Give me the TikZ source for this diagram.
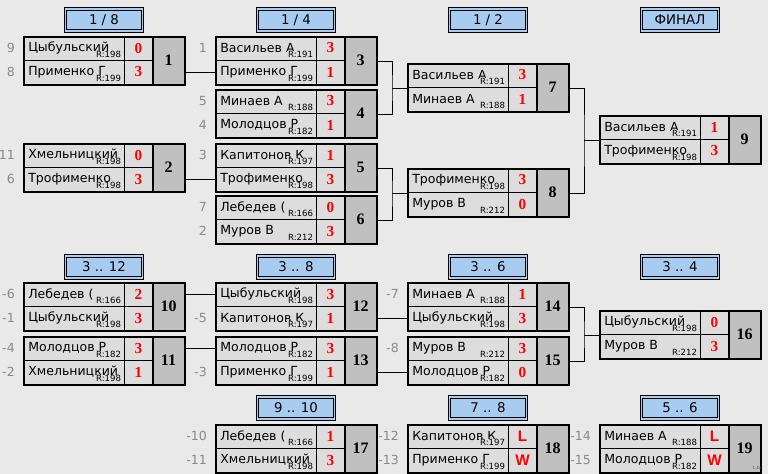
\documentclass[tikz,border=0pt]{standalone}
\usepackage{fontspec}
\setmainfont{DejaVu Sans}
\newfontfamily\scorefont{Liberation Serif}
\newfontfamily\lwfont{Liberation Sans}
\usetikzlibrary{positioning}

\definecolor{bgcol}{HTML}{E9E9E9}
\definecolor{cellcol}{HTML}{DDDDDD}
\definecolor{numcol}{HTML}{C0C0C0}
\definecolor{headcol}{HTML}{A8CCF0}
\definecolor{seedcol}{HTML}{8A8A8A}

\begin{document}
\begin{tikzpicture}[x=0.75pt, y=-0.75pt,
    every node/.style={font=\fontsize{9.4}{11}\selectfont},
    header/.style={draw=black, line width=0.6pt, fill=headcol, double=headcol, double distance=1.2pt,
      minimum width=57.5pt, minimum height=16.5pt, inner sep=0pt, font=\fontsize{10}{11}\selectfont},
    box/.style={draw=black, line width=1.8pt, minimum width=120.75pt, minimum height=36pt, inner sep=0pt, anchor=north west},
    row/.style={inner sep=0pt, minimum width=120.75pt, minimum height=18pt, anchor=north west},
    player/.style={anchor=west, inner sep=0pt},
    rating/.style={anchor=south east, inner sep=0.6pt, fill=cellcol, font=\fontsize{6.4}{7}\selectfont},
    score/.style={text=red, font=\scorefont\bfseries\fontsize{11.5}{12}\selectfont},
    gameno/.style={font=\scorefont\bfseries\fontsize{12}{12}\selectfont},
    seed/.style={text=seedcol, inner sep=0pt},
    link/.style={draw=black, line width=0.7pt}]

  % Background
  \fill[bgcol] (0,0) rectangle (768,474);
  \useasboundingbox (0,0) rectangle (768,474);

  % Headers
  \foreach \t/\x/\y [count=\i] in {{1 / 8}/104/20, {1 / 4}/296/20, {1 / 2}/488/20, ФИНАЛ/680/20,
      {3 .. 12}/104/267, {3 .. 8}/296/267, {3 .. 6}/488/267, {3 .. 4}/680/267,
      {9 .. 10}/296/408, {7 .. 8}/488/408, {5 .. 6}/680/408}
    \node[header] (h\i) at (\x,\y) {\t};

  % Matches
  \foreach \m/\x/\y/\pa/\ra/\sa/\pb/\rb/\sb in {
      1/23/36/Цыбульский/198/0/Применко Г/199/3,
      2/23/143/Хмельницкий/198/0/Трофименко/198/3,
      3/215/36/Васильев А/191/3/Применко Г/199/1,
      4/215/89/Минаев А/188/3/Молодцов Р/182/1,
      5/215/143/Капитонов К/197/1/Трофименко/198/3,
      6/215/195/Лебедев (/166/0/Муров В/212/3,
      7/407/63/Васильев А/191/3/Минаев А/188/1,
      8/407/168/Трофименко/198/3/Муров В/212/0,
      9/599/115/Васильев А/191/1/Трофименко/198/3,
      10/23/282/Лебедев (/166/2/Цыбульский/198/3,
      11/23/336/Молодцов Р/182/3/Хмельницкий/198/1,
      12/215/282/Цыбульский/198/3/Капитонов К/197/1,
      13/215/336/Молодцов Р/182/3/Применко Г/199/1,
      14/407/282/Минаев А/188/1/Цыбульский/198/3,
      15/407/336/Муров В/212/3/Молодцов Р/182/0,
      16/599/310/Цыбульский/198/0/Муров В/212/3,
      17/215/424/Лебедев (/166/1/Хмельницкий/198/3,
      18/407/424/Капитонов К/197/{\lwfont L}/Применко Г/199/{\lwfont W},
      19/599/424/Минаев А/188/{\lwfont L}/Молодцов Р/182/{\lwfont W}}{
    \fill[cellcol] (\x,\y) rectangle ++(130,48);
    \fill[numcol] (\x+130,\y) rectangle ++(31,48);
    \draw[line width=0.6pt] (\x,\y+24) -- ++(130,0) (\x+101,\y) -- ++(0,48);
    \node[row] (m\m a) at (\x,\y) {};
    \node[row] (m\m b) at (\x,\y+24) {};
    \begin{scope}
      \clip (\x,\y) rectangle ++(101,48);
      \node[player] (p\m a) at (\x+5,\y+12) {\pa};
      \node[player] (p\m b) at (\x+5,\y+36) {\pb};
      \node[rating] (r\m a) at (\x+99,\y+23) {R:\ra};
      \node[rating] (r\m b) at (\x+99,\y+47) {R:\rb};
    \end{scope}
    \node[score] (s\m a) at (\x+115.5,\y+12) {\sa};
    \node[score] (s\m b) at (\x+115.5,\y+36) {\sb};
    \node[gameno] (g\m) at (\x+145.5,\y+24) {\m};
    \draw[line width=1.8pt] (\x+130,\y) -- ++(0,48);
    \node[box] (m\m) at (\x,\y) {};
  }

  % Seeds
  \foreach \r/\s in {m1a/9, m1b/8, m2a/11, m2b/6, m3a/1, m4a/5, m4b/4, m5a/3, m6a/7, m6b/2,
      m10a/-6, m10b/-1, m11a/-4, m11b/-2, m12b/-5, m13b/-3, m14a/-7, m15a/-8,
      m17a/-10, m17b/-11, m18a/-12, m18b/-13, m19a/-14, m19b/-15}
    \node[seed, left=6pt of \r.west] (sd\r) {\s};

  % Joints
  \coordinate (j7) at ([xshift=-11.25pt]m7.west);
  \coordinate (j8) at ([xshift=-11.25pt]m8.west);
  \coordinate (j9) at ([xshift=-11.25pt]m9.west);
  \coordinate (j16) at ([xshift=-11.25pt]m16.west);

  % Edges
  \draw[link] (m1b.east) -- (m3b.west);
  \draw[link] (m2b.east) -- (m5b.west);
  \draw[link] (m3.east) -| (j7) |- (m4.east);
  \draw[link] (j7) -- (m7.west);
  \draw[link] (m5.east) -| (j8) |- (m6.east);
  \draw[link] (j8) -- (m8.west);
  \draw[link] (m7.east) -| (j9) |- (m8.east);
  \draw[link] (j9) -- (m9.west);
  \draw[link] (m10a.east) -- (m12a.west);
  \draw[link] (m11a.east) -- (m13a.west);
  \draw[link] (m12b.east) -- (m14b.west);
  \draw[link] (m13b.east) -- (m15b.west);
  \draw[link] (m14.east) -| (j16) |- (m15.east);
  \draw[link] (j16) -- (m16.west);

  % Version
  \node[font=\fontsize{3}{3}\selectfont, text=black!70, inner sep=0pt] (ver) at (757,468) {1.44};
\end{tikzpicture}
\end{document}
